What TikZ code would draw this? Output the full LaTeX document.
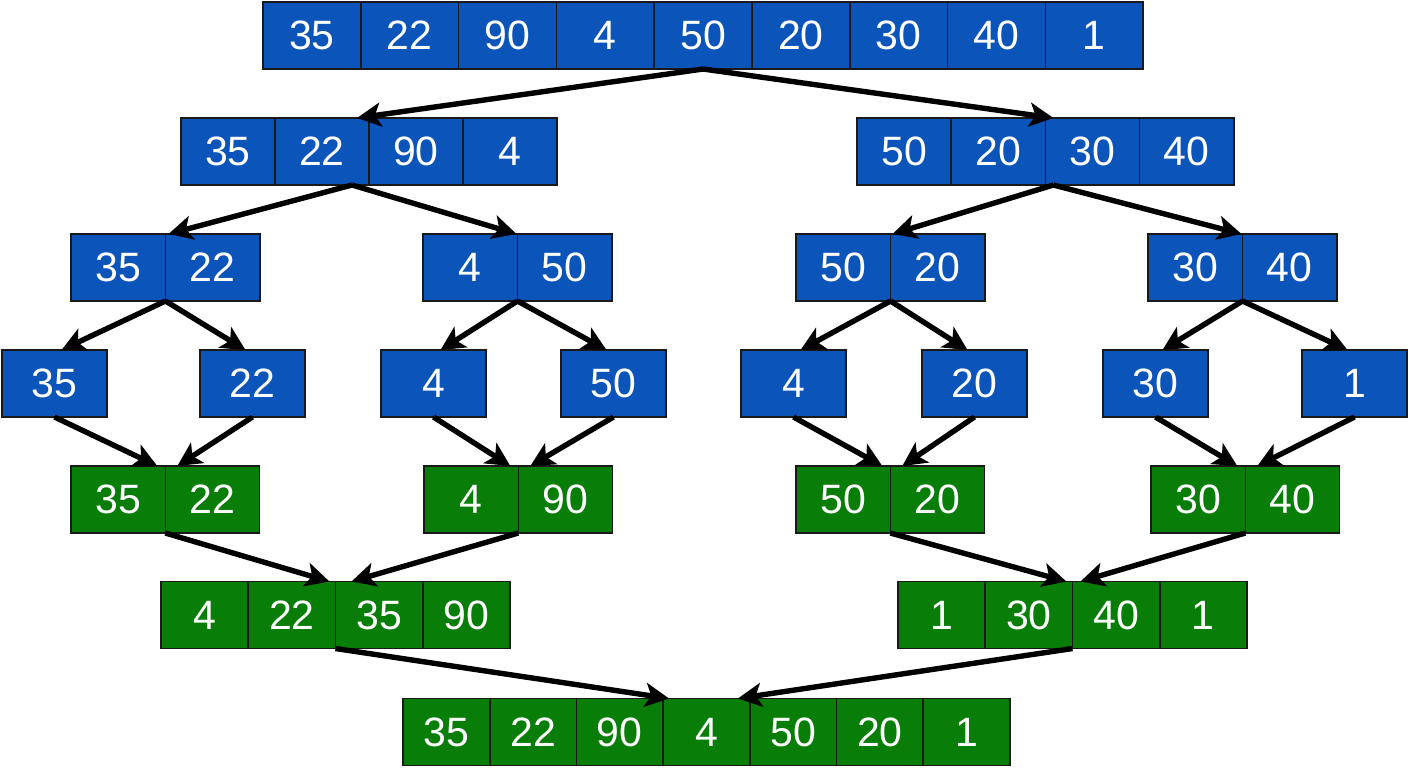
\documentclass[tikz,border=0pt]{standalone}
\usepackage{fontspec}
\setmainfont{Liberation Sans}
\usetikzlibrary{positioning,arrows.meta}
\definecolor{splitblue}{RGB}{10,84,186}
\definecolor{mergegreen}{RGB}{8,126,8}

\begin{document}
\begin{tikzpicture}[x=0.5pt, y=-0.5pt,
  cell/.style={draw=black!90, line width=0.8pt, inner sep=0pt, outer sep=0pt,
               minimum height=33.5pt, text=white, font=\fontsize{20.5}{24}\selectfont},
  split/.style={cell, fill=splitblue},
  merge/.style={cell, fill=mergegreen},
  arr/.style={-{Stealth[length=12pt,width=12pt,inset=3pt]}, line width=2.7pt}
]
  \useasboundingbox (0,0) rectangle (1408,768);
  % splitting
  \foreach \v [count=\i] in {35,22,90,4,50,20,30,40,1}
    \node[split, minimum width=48.9pt] (t\i) at ({263+(\i-0.5)*97.8},35.5) {\v};
  \foreach \v [count=\i] in {35,22,90,4}
    \node[split, minimum width=47pt] (bl\i) at ({181+(\i-0.5)*94},151.5) {\v};
  \foreach \v [count=\i] in {50,20,30,40}
    \node[split, minimum width=47.1pt] (br\i) at ({857+(\i-0.5)*94.2},151.5) {\v};
  \foreach \x/\u/\w [count=\j] in {71/35/22, 423/4/50, 796/50/20, 1148/30/40} {
    \node[split, minimum width=47.25pt] (pa\j) at ({\x+47.25},267.5) {\u};
    \node[split, minimum width=47.25pt, right=0pt of pa\j] (pb\j) {\w};
  }
  \foreach \x/\v [count=\i] in {2/35, 200/22, 381/4, 561/50, 741/4, 922/20, 1103/30, 1302/1}
    \node[split, minimum width=52.5pt] (s\i) at ({\x+52.5},383.5) {\v};
  % merging
  \foreach \x/\u/\w [count=\j] in {71/35/22, 424/4/90, 796/50/20, 1151/30/40} {
    \node[merge, minimum width=47.15pt] (ma\j) at ({\x+47.15},499.5) {\u};
    \node[merge, minimum width=47.15pt, right=0pt of ma\j] (mb\j) {\w};
  }
  \foreach \v [count=\i] in {4,22,35,90}
    \node[merge, minimum width=43.6pt] (ml\i) at ({161+(\i-0.5)*87.25},615) {\v};
  \foreach \v [count=\i] in {1,30,40,1}
    \node[merge, minimum width=43.6pt] (mr\i) at ({898+(\i-0.5)*87.25},615) {\v};
  \foreach \v [count=\i] in {35,22,90,4,50,20,1}
    \node[merge, minimum width=43.35pt] (f\i) at ({403+(\i-0.5)*86.7},732) {\v};

  \draw[arr] (t5.south) -- ([xshift=-6pt]bl2.north east);
  \draw[arr] (t5.south) -- ([xshift=4pt]br2.north east);
  \draw[arr] ([xshift=-8.5pt]bl2.south east) -- ([xshift=1.5pt]pa1.north east);
  \draw[arr] ([xshift=-8.5pt]bl2.south east) -- ([xshift=-0.5pt]pa2.north east);
  \draw[arr] ([xshift=4pt]br2.south east) -- ([xshift=1pt]pa3.north east);
  \draw[arr] ([xshift=4pt]br2.south east) -- ([xshift=-0.5pt]pa4.north east);
  \foreach \j/\l/\r in {1/1/2, 2/3/4, 3/5/6, 4/7/8} {
    \draw[arr] (pa\j.south east) -- ([xshift=3.5pt]s\l.north);
    \draw[arr] (pa\j.south east) -- ([xshift=-3.5pt]s\r.north);
    \draw[arr] (s\l.south) -- ([xshift=-4pt]ma\j.north east);
    \draw[arr] (s\r.south) -- ([xshift=6pt]ma\j.north east);
  }
  \draw[arr] (ma1.south east) -- ([xshift=-3pt]ml2.north east);
  \draw[arr] (ma2.south east) -- ([xshift=8pt]ml2.north east);
  \draw[arr] (ma3.south east) -- ([xshift=-3pt]mr2.north east);
  \draw[arr] (ma4.south east) -- ([xshift=4pt]mr2.north east);
  \draw[arr] (ml2.south east) -- ([xshift=3pt]f4.north west);
  \draw[arr] (mr2.south east) -- ([xshift=-6pt]f4.north east);
\end{tikzpicture}
\end{document}
